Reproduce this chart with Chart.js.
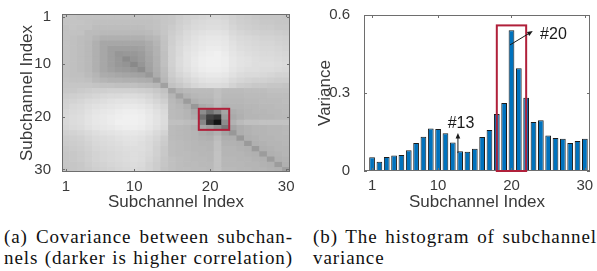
<!DOCTYPE html>
<html>
<head>
<meta charset="utf-8">
<script src="https://cdn.jsdelivr.net/npm/chart.js@4.4.0/dist/chart.umd.min.js"></script>
<style>
  body { margin: 0; background: #fff; width: 597px; height: 271px; position: relative; overflow: hidden; }
  #covChart { position: absolute; left: 0; top: 0; }
  #varChart { position: absolute; left: 300px; top: 0; }
  .cap { position: absolute; top: 226px; font-family: "Liberation Serif", "Times New Roman", serif;
         font-size: 19px; line-height: 21px; letter-spacing: 0.9px; color: #111; }
  .cap div { text-align: justify; text-align-last: justify; }
  .cap div.last { text-align-last: left; }
</style>
</head>
<body>
<canvas id="covChart" width="300" height="218"></canvas>
<canvas id="varChart" width="297" height="218"></canvas>
<div class="cap" style="left:4px; width:289px;">
  <div>(a) Covariance between subchan-</div>
  <div>nels (darker is higher correlation)</div>
</div>
<div class="cap" style="left:313px; width:284px;">
  <div>(b) The histogram of subchannel</div>
  <div class="last">variance</div>
</div>
<script>
"use strict";

const subchannels = [1, 2, 3, 4, 5, 6, 7, 8, 9, 10, 11, 12, 13, 14, 15,
                     16, 17, 18, 19, 20, 21, 22, 23, 24, 25, 26, 27, 28, 29, 30];
const axisTicks = [1, 10, 20, 30];
const varianceTicks = [0, 0.3, 0.6];

const variance = [0.053, 0.036, 0.054, 0.060, 0.062, 0.080, 0.108, 0.132, 0.163, 0.162,
                  0.145, 0.110, 0.076, 0.074, 0.086, 0.131, 0.158, 0.219, 0.262, 0.541,
                  0.395, 0.282, 0.188, 0.195, 0.137, 0.127, 0.124, 0.108, 0.115, 0.124];

// covariance between subchannels, 0..100 (higher is darker)
const covRows = [
  [20,20,21,21,21,21,21,21,21,21,21,21,20,19, 18,16,14,13,12,11,11,12,14,16,17,18,19,19,19,20],
  [20,20,20,21,22,22,22,22,22,22,22,22,21,19, 18,15,13,11,10,9,9,10,13,15,16,17,18,18,19,19],
  [21,20,21,21,23,23,23,23,23,23,23,22,21,19, 17,14,12,10,9,8,8,9,12,14,15,16,17,17,18,18],
  [21,21,21,24,24,25,25,25,25,25,25,24,22,19, 16,13,10,8,7,6,6,7,10,12,13,14,15,15,16,17],
  [21,22,23,24,27,29,29,29,29,29,29,27,25,20, 15,12,9,7,5,4,4,5,8,10,11,12,13,13,14,15],
  [21,22,23,25,29,33,33,33,33,33,33,31,27,21, 15,11,8,6,4,3,3,4,7,9,10,11,12,12,13,14],
  [21,22,23,25,29,33,37,37,37,37,36,32,28,21, 14,10,7,5,3,2,2,3,6,8,9,10,11,11,12,13],
  [21,22,23,25,29,33,37,41,40,40,38,33,28,22, 14,10,6,4,2,1,0,2,5,7,8,9,10,10,11,12],
  [21,22,23,25,29,33,37,40,46,42,39,34,29,22, 14,9,6,3,1,0,0,1,4,6,7,8,9,9,10,11],
  [21,22,23,25,29,33,37,40,42,47,41,35,29,22, 14,9,6,3,1,0,0,1,4,6,7,8,8,8,9,10],
  [21,22,23,25,29,33,36,38,39,41,45,36,30,23, 15,10,7,4,2,1,1,2,5,7,8,8,9,9,10,11],
  [21,22,22,24,27,31,32,33,34,35,36,40,31,24, 16,12,9,6,4,3,3,4,7,9,10,10,11,12,13,13],
  [20,21,21,22,25,27,28,28,29,29,30,31,38,26, 18,15,12,9,7,6,6,7,10,12,13,14,14,15,16,16],
  [19,19,19,19,20,21,21,22,22,22,23,24,26,36, 21,18,15,12,10,9,9,10,13,16,17,18,18,19,19,20],
  [18,18,17,16,15,15,14,14,14,14,15,16,18,21, 34,27,25,24,24,24,22,24,24,24,23,23,23,22,22,22],
  [16,15,14,13,12,11,10,10,9,9,10,12,15,18, 27,36,28,26,25,25,22,25,25,25,24,24,24,23,23,23],
  [14,13,12,10,9,8,7,6,6,6,7,9,12,15, 25,28,38,29,27,27,23,26,26,26,25,25,24,24,24,23],
  [13,11,10,8,7,6,5,4,3,3,4,6,9,12, 24,26,29,40,32,30,24,28,27,27,26,26,25,25,24,24],
  [12,10,9,7,5,4,3,2,1,1,2,4,7,10, 24,25,27,32,45,58,48,34,30,28,27,26,26,25,25,24],
  [11,9,8,6,4,3,2,1,0,0,1,3,6,9, 24,25,27,30,58,80,86,38,32,29,27,27,26,26,25,25],
  [11,9,8,6,4,3,2,0,0,0,1,3,6,9, 22,22,23,24,48,86,100,45,28,24,22,22,21,21,21,21],
  [12,10,9,7,5,4,3,2,1,1,2,4,7,10, 24,25,26,28,34,38,45,55,34,30,28,27,27,26,26,25],
  [14,13,12,10,8,7,6,5,4,4,5,7,10,13, 24,25,26,27,30,32,28,34,40,30,28,27,27,26,26,25],
  [16,15,14,12,10,9,8,7,6,6,7,9,12,16, 24,25,26,27,28,29,24,30,30,40,29,28,27,27,26,26],
  [17,16,15,13,11,10,9,8,7,7,8,10,13,17, 23,24,25,26,27,27,22,28,28,29,39,29,28,27,27,26],
  [18,17,16,14,12,11,10,9,8,8,8,10,14,18, 23,24,25,26,26,27,22,27,27,28,29,39,29,28,27,27],
  [19,18,17,15,13,12,11,10,9,8,9,11,14,18, 23,24,24,25,26,26,21,27,27,27,28,29,38,29,28,27],
  [19,18,17,15,13,12,11,10,9,8,9,12,15,19, 22,23,24,25,25,26,21,26,26,27,27,28,29,38,29,28],
  [19,19,18,16,14,13,12,11,10,9,10,13,16,19, 22,23,24,24,25,25,21,26,26,26,27,27,28,29,38,29],
  [20,19,18,17,15,14,13,12,11,10,11,13,16,20, 22,23,23,24,24,25,21,25,25,26,26,27,27,28,29,37]
];

// highlighted subchannels (red frames) and annotations
const covBox = [19, 22];
const peakBox = [18, 22, 0.56];
const notes = [
  { text: "#20", from: [19.8, 0.485], to: [22.9, 0.538], at: [23.9, 0.523] },
  { text: "#13", from: [12.7, 0.069], to: [12.7, 0.146], at: [11.3, 0.181] }
];

Chart.defaults.font.family = "'Liberation Sans', Arial, sans-serif";
Chart.defaults.color = "#3a3a3a";
Chart.defaults.animation = false;

function grayOf(v) {
    const b = Math.round(240 - 2.2 * v);
    return "rgb(" + b + "," + b + "," + b + ")";
}

function fixedTicks(values) {
    return function (axis) {
        axis.ticks = values.map(v => ({ value: v }));
    };
}

// MATLAB-like box with inward ticks on all four sides
const boxPlugin = {
    id: "box",
    afterDatasetsDraw(chart) {
        const { ctx, chartArea: a, scales } = chart;
        ctx.save();
        ctx.strokeStyle = "#6e6e6e";
        ctx.lineWidth = 1;
        ctx.strokeRect(a.left + 0.5, a.top + 0.5, a.right - a.left - 1, a.bottom - a.top - 1);
        ctx.beginPath();
        for (let t of scales.x.ticks) {
            const px = Math.round(scales.x.getPixelForValue(t.value)) + 0.5;
            ctx.moveTo(px, a.bottom); ctx.lineTo(px, a.bottom - 3);
            ctx.moveTo(px, a.top); ctx.lineTo(px, a.top + 3);
        }
        for (let t of scales.y.ticks) {
            const py = Math.round(scales.y.getPixelForValue(t.value)) + 0.5;
            ctx.moveTo(a.left, py); ctx.lineTo(a.left + 3, py);
            ctx.moveTo(a.right, py); ctx.lineTo(a.right - 3, py);
        }
        ctx.stroke();
        ctx.restore();
    }
};

function drawArrow(ctx, x1, y1, x2, y2) {
    const ang = Math.atan2(y2 - y1, x2 - x1);
    ctx.beginPath();
    ctx.moveTo(x1, y1);
    ctx.lineTo(x2 - 3 * Math.cos(ang), y2 - 3 * Math.sin(ang));
    ctx.stroke();
    ctx.beginPath();
    ctx.moveTo(x2, y2);
    ctx.lineTo(x2 - 6 * Math.cos(ang - 0.4), y2 - 6 * Math.sin(ang - 0.4));
    ctx.lineTo(x2 - 6 * Math.cos(ang + 0.4), y2 - 6 * Math.sin(ang + 0.4));
    ctx.closePath();
    ctx.fill();
}

const covFrame = {
    id: "covFrame",
    afterDraw(chart) {
        const { ctx, scales: { x, y } } = chart;
        const x1 = x.getPixelForValue(covBox[0] - 0.5), x2 = x.getPixelForValue(covBox[1] + 0.5);
        const y1 = y.getPixelForValue(covBox[0] - 0.5), y2 = y.getPixelForValue(covBox[1] + 0.5);
        ctx.save();
        ctx.strokeStyle = "#b0203a";
        ctx.lineWidth = 2;
        ctx.strokeRect(x1, y1, x2 - x1, y2 - y1);
        ctx.restore();
    }
};

const varFrame = {
    id: "varFrame",
    afterDraw(chart) {
        const { ctx, scales: { x, y } } = chart;
        const x1 = x.getPixelForValue(peakBox[0]), x2 = x.getPixelForValue(peakBox[1]);
        const y1 = y.getPixelForValue(peakBox[2]), y2 = y.getPixelForValue(0);
        ctx.save();
        ctx.strokeStyle = "#b0203a";
        ctx.lineWidth = 2;
        ctx.strokeRect(x1, y1, x2 - x1, y2 - y1);
        ctx.strokeStyle = "#1a1a1a";
        ctx.fillStyle = "#1a1a1a";
        ctx.lineWidth = 1;
        ctx.font = "16px 'Liberation Sans', Arial, sans-serif";
        ctx.textAlign = "left";
        ctx.textBaseline = "middle";
        for (let n of notes) {
            drawArrow(ctx, x.getPixelForValue(n.from[0]), y.getPixelForValue(n.from[1]),
                      x.getPixelForValue(n.to[0]), y.getPixelForValue(n.to[1]));
            ctx.fillText(n.text, x.getPixelForValue(n.at[0]), y.getPixelForValue(n.at[1]));
        }
        ctx.restore();
    }
};

function drawCov() {
    const datasets = covRows.map((row, r) => ({
        data: row.map(() => [r + 0.5, r + 1.5]),
        backgroundColor: row.map(grayOf),
        borderWidth: 0,
        grouped: false,
        barPercentage: 1,
        categoryPercentage: 1
    }));
    new Chart(document.getElementById("covChart"), {
        type: "bar",
        data: { labels: subchannels, datasets: datasets },
        options: {
            responsive: false,
            layout: { padding: { left: 0, top: 14, right: 10, bottom: 0 } },
            plugins: { legend: { display: false }, tooltip: { enabled: false } },
            scales: {
                x: {
                    type: "linear", min: 0.5, max: 30.5, offset: false,
                    grid: { display: false }, border: { display: false },
                    afterBuildTicks: fixedTicks(axisTicks),
                    afterFit: s => { s.height = 46; },
                    ticks: { font: { size: 15 }, padding: -2, maxRotation: 0, autoSkip: false },
                    title: { display: true, text: "Subchannel Index", font: { size: 17 }, padding: { top: 0, bottom: 5 } }
                },
                y: {
                    type: "linear", min: 0.5, max: 30.5, reverse: true,
                    grid: { display: false }, border: { display: false },
                    afterBuildTicks: fixedTicks(axisTicks),
                    afterFit: s => { s.width = 62; },
                    ticks: { font: { size: 15 }, padding: 3, autoSkip: false },
                    title: { display: true, text: "Subchannel Index", font: { size: 17 }, padding: { top: 17, bottom: 0 } }
                }
            }
        },
        plugins: [boxPlugin, covFrame]
    });
}

function drawVariance() {
    new Chart(document.getElementById("varChart"), {
        type: "bar",
        data: {
            labels: subchannels,
            datasets: [{
                label: "Variance",
                data: variance,
                backgroundColor: "#0072BD",
                borderColor: "#1b1b1b",
                borderWidth: 1,
                barPercentage: 0.78,
                categoryPercentage: 1
            }]
        },
        options: {
            responsive: false,
            layout: { padding: { left: 0, top: 15, right: 7, bottom: 0 } },
            plugins: { legend: { display: false }, tooltip: { enabled: false } },
            scales: {
                x: {
                    type: "linear", min: -0.1, max: 30.7, offset: false,
                    grid: { display: false }, border: { display: false },
                    afterBuildTicks: fixedTicks(axisTicks),
                    afterFit: s => { s.height = 47; },
                    ticks: { font: { size: 15 }, padding: -2, maxRotation: 0, autoSkip: false },
                    title: { display: true, text: "Subchannel Index", font: { size: 17 }, padding: { top: 0, bottom: 5 } }
                },
                y: {
                    min: 0, max: 0.6,
                    grid: { display: false }, border: { display: false },
                    afterBuildTicks: fixedTicks(varianceTicks),
                    afterFit: s => { s.width = 64; },
                    ticks: { font: { size: 15 }, padding: 6, callback: v => (v === 0 ? "0" : v.toFixed(1)) },
                    title: { display: true, text: "Variance", font: { size: 17 }, padding: { top: 15, bottom: 0 } }
                }
            }
        },
        plugins: [boxPlugin, varFrame]
    });
}

drawCov();
drawVariance();
</script>
</body>
</html>
